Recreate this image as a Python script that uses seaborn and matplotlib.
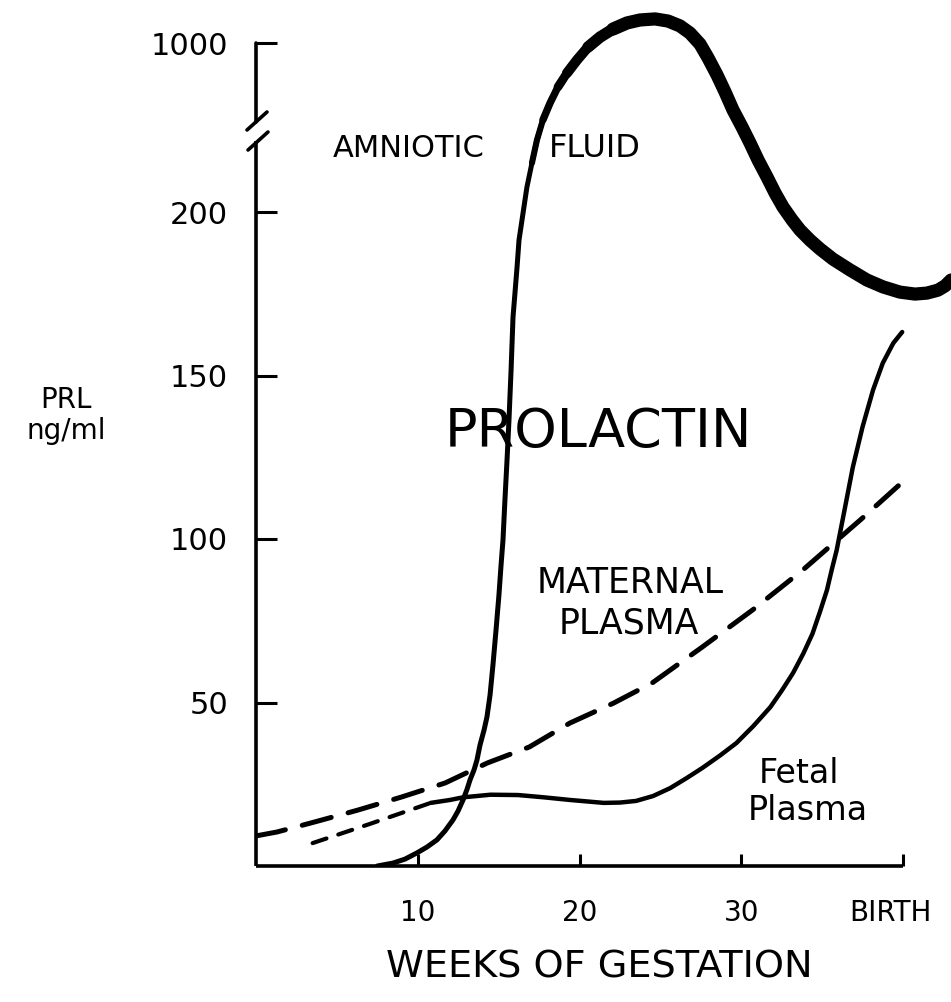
import matplotlib
matplotlib.use("Agg")
import matplotlib.pyplot as plt
import matplotlib.transforms as mtransforms
from matplotlib.lines import Line2D
import numpy as np
import pandas as pd
import seaborn as sns


# values: weeks of gestation vs PRL (ng/ml)
amniotic_weeks = [7.5, 8.47, 9.21, 9.95, 10.57, 11.19, 11.68, 12.18, 12.49, 12.8, 13.05,
                  13.23, 13.48, 13.66, 13.85, 14.1, 14.28, 14.47, 14.65, 14.84, 15.02,
                  15.15, 15.27, 15.39, 15.52, 15.64, 15.77, 15.89, 16.01, 16.14, 16.26,
                  16.51, 16.75, 17.06, 17.37, 17.74, 18.18, 18.67, 19.23, 19.85, 20.53,
                  21.27, 22.07, 22.94, 23.74, 24.67, 25.47, 26.21, 26.83, 27.45, 27.95,
                  28.5, 29.0, 29.49, 30.05, 30.54, 31.04, 31.59, 32.09, 32.58, 33.14,
                  33.63, 34.25, 34.87, 35.67, 36.72, 37.77, 38.76, 39.81, 40.74, 41.48,
                  42.16, 42.6, 42.97]
amniotic_prl = [0, 0.9, 2.1, 4.0, 5.8, 8.0, 10.7, 14.1, 16.8, 20.2, 23.5,
                26.3, 29.4, 32.4, 37.0, 41.6, 45.6, 52.3, 61.5, 72.2, 82.9,
                92.0, 99.7, 111.9, 124.2, 136.4, 151.7, 167.9, 175.2, 183.2, 191.4,
                199.7, 318, 432, 541, 636, 716, 792, 858, 920, 981,
                1028, 1066, 1095, 1109, 1114, 1104, 1081, 1047, 995, 929,
                849, 768, 683, 602, 527, 446, 366, 290, 224, 197.6,
                194.5, 191.4, 188.7, 185.6, 182.3, 179.2, 177.1, 175.5, 174.9, 175.2,
                176.1, 177.4, 179.2]

maternal_weeks = [0, 1.3, 3.65, 6.3, 9.0, 11.7, 14.3, 16.9, 19.4, 22.1, 24.5, 27.6,
                  30.7, 33.8, 37.4, 40.1]
maternal_prl = [9.2, 10.4, 13.5, 17.1, 21.1, 25.4, 31.5, 36.4, 43.7, 49.8, 56.0, 67.0,
                78.3, 90.5, 106, 118]

fetal_weeks = [3.5, 7.0, 10.8, 12.0, 12.8, 14.5, 16.2, 17.8, 19.4, 21.5, 22.5, 23.5,
               24.55, 25.6, 26.63, 27.6, 28.69, 29.7, 30.75, 31.8, 32.5, 33.2, 33.84,
               34.4, 34.87, 35.3, 35.59, 35.9, 36.3, 36.9, 37.5, 38.15, 38.75, 39.4, 39.95]
fetal_prl = [7.0, 12.8, 19.3, 20.2, 21.0, 21.8, 21.7, 21.0, 20.2, 19.3, 19.4, 19.9,
             21.4, 23.8, 26.9, 30.0, 33.8, 37.6, 42.8, 48.6, 53.6, 59.0, 65.0,
             71.0, 77.8, 84.4, 90.5, 96.6, 106.7, 122, 134.3, 145.6, 153.8, 159.9, 163.3]
fetal_dashed_until = 10.8

x_ticks = [10, 20, 30, 40]
x_tick_labels = ["10", "20", "30", "BIRTH"]
y_ticks = [50, 100, 150, 200, 1000]
y_tick_labels = ["50", "100", "150", "200", "1000"]

BREAK = 200
SQUEEZE = 0.0646  # scale factor above the axis break

W, H = 951, 1002


def fwd(v):
    v = np.asarray(v, dtype=float)
    return np.where(v <= BREAK, v, BREAK + (v - BREAK) * SQUEEZE)


def inv(t):
    t = np.asarray(t, dtype=float)
    return np.where(t <= BREAK, t, BREAK + (t - BREAK) / SQUEEZE)


def px(x, y):
    return x / W, 1 - y / H


sns.set_style("ticks")
plt.rcParams["font.family"] = ["DejaVu Sans"]
for key in ["text.color", "axes.edgecolor", "xtick.color", "ytick.color", "axes.labelcolor"]:
    plt.rcParams[key] = "black"

amn = pd.DataFrame({"week": amniotic_weeks, "prl": amniotic_prl})
mat = pd.DataFrame({"week": maternal_weeks, "prl": maternal_prl})
fet = pd.DataFrame({"week": fetal_weeks, "prl": fetal_prl})

fig = plt.figure(figsize=(W / 100, H / 100), dpi=100)
ax = fig.add_axes([256 / W, (H - 866) / H, (W - 256) / W, 866 / H])

line_kw = dict(color="black", estimator=None, legend=False, ax=ax)

# amniotic fluid: thin rise, line gets heavier over the top
sns.lineplot(data=amn, x="week", y="prl", linewidth=3.6, solid_capstyle="round", **line_kw)
for start, lw in [(17.0, 4.4), (17.7, 5.3), (18.4, 6.3), (19.2, 7.3), (20.2, 8.3), (21.3, 9.5)]:
    sns.lineplot(data=amn[amn.week >= start], x="week", y="prl", linewidth=lw,
                 solid_capstyle="round", **line_kw)

# maternal plasma (dashed)
sns.lineplot(data=mat, x="week", y="prl", linewidth=3.6, linestyle=(0, (6, 3.5)),
             dash_capstyle="round", **line_kw)

# fetal plasma: short dashes early, then solid
sns.lineplot(data=fet[fet.week <= fetal_dashed_until], x="week", y="prl", linewidth=3.0,
             linestyle=(0, (3.5, 3)), dash_capstyle="round", **line_kw)
sns.lineplot(data=fet[fet.week >= fetal_dashed_until], x="week", y="prl", linewidth=3.2,
             solid_capstyle="round", **line_kw)

ax.set_yscale("function", functions=(fwd, inv))
ax.set_xlim(0, (W - 256) / 16.175)
ax.set_ylim(0, float(inv(866 / 3.27)))

ax.set_xticks(x_ticks)
ax.set_xticklabels(x_tick_labels)
ax.set_yticks(y_ticks)
ax.set_yticklabels(y_tick_labels)
ax.minorticks_off()
ax.set_xlabel("")
ax.set_ylabel("")

ax.tick_params(axis="y", direction="in", length=15, width=2.2, pad=20, labelsize=22)
ax.tick_params(axis="x", direction="in", length=8.6, width=2.2, pad=24, labelsize=20)

for side in ["top", "right"]:
    ax.spines[side].set_visible(False)
for side in ["left", "bottom"]:
    ax.spines[side].set_linewidth(2.6)
    ax.spines[side].set_capstyle("butt")
ax.spines["left"].set_bounds(0, float(inv((866 - 141) / 3.27)))
ax.spines["bottom"].set_bounds(0, 40)
ax.patch.set_alpha(0)

# axis break on the y axis
for (x0, y0), (x1, y1) in [((256, 43), (256, 122)),
                           ((247, 130), (267, 112)),
                           ((248, 150), (268, 132))]:
    fig.add_artist(Line2D([px(x0, y0)[0], px(x1, y1)[0]], [px(x0, y0)[1], px(x1, y1)[1]],
                          color="black", linewidth=2.6, transform=fig.transFigure))

for lab in ax.get_xticklabels():
    if lab.get_text() == "BIRTH":
        lab.set_transform(lab.get_transform()
                          + mtransforms.ScaledTranslation(-13 / 100, 0, fig.dpi_scale_trans))


# annotations
def label(x, y, s, size, ha="center", va="baseline", **kw):
    fig.text(*px(x, y), s, fontsize=size, ha=ha, va=va, **kw)


label(333, 157, "AMNIOTIC", 22, ha="left")
label(595, 157, "FLUID", 23)
label(598, 447, "PROLACTIN", 39)
label(630, 593, "MATERNAL", 25)
label(629, 633, "PLASMA", 25)
label(799, 783, "Fetal", 24)
label(808, 820, "Plasma", 24)
label(66, 386, "PRL\nng/ml", 20, va="top", linespacing=1.12, multialignment="center")
label(599, 978, "WEEKS OF GESTATION", 27.5)

fig.savefig("out.png", dpi=100)
plt.close(fig)
